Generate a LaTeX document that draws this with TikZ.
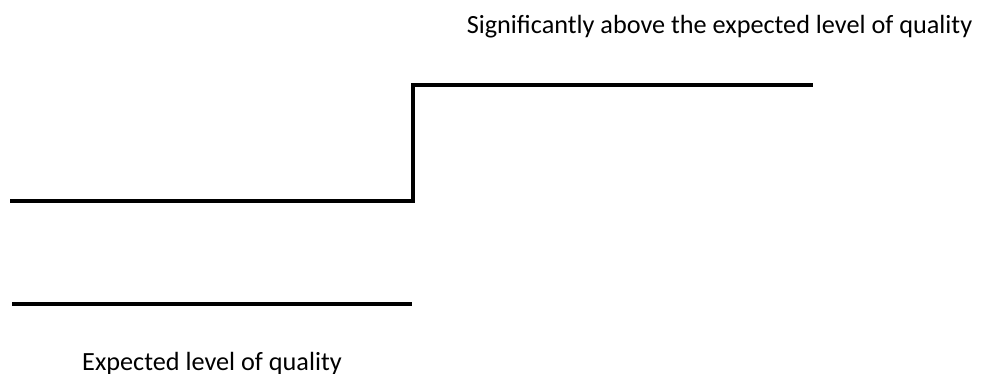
\documentclass[tikz,border=0pt]{standalone}
\usepackage{fontspec}
\setmainfont{Carlito}
\usetikzlibrary{positioning}

\begin{document}
\begin{tikzpicture}[x=0.03cm,y=-0.03cm]
    \tikzset{level/.style={line width=3pt}}
    \tikzset{caption/.style={anchor=base,inner sep=0pt,font=\fontsize{22.4}{26}\selectfont}}
    \useasboundingbox (0,0) rectangle (984,374);
    % raised level
    \coordinate (a) at (10,201);
    \coordinate (b) at (413,201);
    \coordinate (c) at (413,85);
    \coordinate (d) at (813,85);
    \draw[level] (a) -- (b) -- (c) -- (d);
    % expected level
    \coordinate (e) at (12,304);
    \coordinate (f) at (412,304);
    \draw[level] (e) -- (f);
    \node[caption] (high) at (719.5,33.5) {Significantly above the expected level of quality};
    \node[caption] (expected) at (212,370) {Expected level of quality};
\end{tikzpicture}
\end{document}
